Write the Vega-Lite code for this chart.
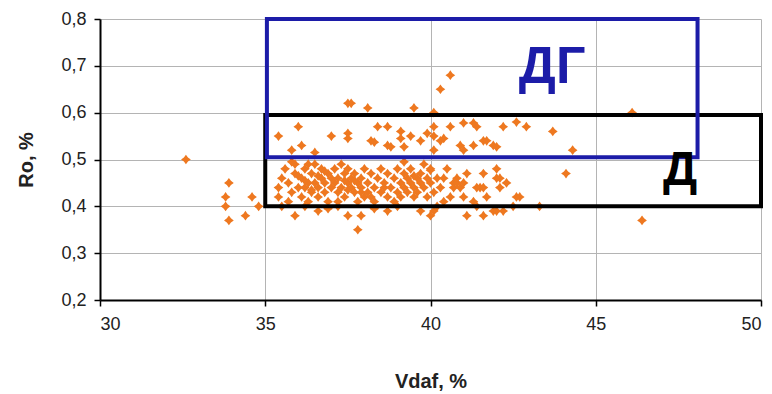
{
  "$schema": "https://vega.github.io/schema/vega-lite/v6.json",
  "width": 661,
  "height": 281,
  "autosize": "none",
  "padding": {"left": 100, "top": 19, "right": 11, "bottom": 94},
  "background": "white",
  "config": {"view": {"stroke": null}, "font": "Liberation Sans"},
  "layer": [
    {
      "data": {"values": [
        {"Vdaf": 32.6, "Ro": 0.50}, {"Vdaf": 33.9, "Ro": 0.45}, {"Vdaf": 33.8, "Ro": 0.42}, {"Vdaf": 33.8, "Ro": 0.40},
        {"Vdaf": 33.9, "Ro": 0.37}, {"Vdaf": 34.4, "Ro": 0.38}, {"Vdaf": 34.6, "Ro": 0.42}, {"Vdaf": 34.8, "Ro": 0.40},
        {"Vdaf": 35.9, "Ro": 0.38}, {"Vdaf": 36.6, "Ro": 0.39}, {"Vdaf": 37.5, "Ro": 0.38}, {"Vdaf": 37.9, "Ro": 0.38},
        {"Vdaf": 37.8, "Ro": 0.35}, {"Vdaf": 38.7, "Ro": 0.39}, {"Vdaf": 39.7, "Ro": 0.39}, {"Vdaf": 40.0, "Ro": 0.38},
        {"Vdaf": 41.1, "Ro": 0.38}, {"Vdaf": 41.6, "Ro": 0.38}, {"Vdaf": 41.9, "Ro": 0.39}, {"Vdaf": 42.2, "Ro": 0.39},
        {"Vdaf": 42.0, "Ro": 0.39}, {"Vdaf": 43.3, "Ro": 0.40}, {"Vdaf": 36.2, "Ro": 0.40}, {"Vdaf": 39.0, "Ro": 0.40},
        {"Vdaf": 40.1, "Ro": 0.39}, {"Vdaf": 38.3, "Ro": 0.395}, {"Vdaf": 36.9, "Ro": 0.395}, {"Vdaf": 37.2, "Ro": 0.40},
        {"Vdaf": 42.5, "Ro": 0.40}, {"Vdaf": 41.4, "Ro": 0.40},
        {"Vdaf": 40.3, "Ro": 0.65}, {"Vdaf": 40.6, "Ro": 0.68}, {"Vdaf": 37.5, "Ro": 0.62}, {"Vdaf": 37.6, "Ro": 0.62},
        {"Vdaf": 38.1, "Ro": 0.61}, {"Vdaf": 39.5, "Ro": 0.61}, {"Vdaf": 46.1, "Ro": 0.60}, {"Vdaf": 40.1, "Ro": 0.60},
        {"Vdaf": 35.4, "Ro": 0.55}, {"Vdaf": 35.8, "Ro": 0.52}, {"Vdaf": 36.0, "Ro": 0.57}, {"Vdaf": 36.1, "Ro": 0.53},
        {"Vdaf": 37.0, "Ro": 0.55}, {"Vdaf": 37.5, "Ro": 0.556}, {"Vdaf": 37.5, "Ro": 0.545}, {"Vdaf": 38.2, "Ro": 0.54},
        {"Vdaf": 38.4, "Ro": 0.57}, {"Vdaf": 38.7, "Ro": 0.57}, {"Vdaf": 38.7, "Ro": 0.53}, {"Vdaf": 39.1, "Ro": 0.56},
        {"Vdaf": 39.1, "Ro": 0.545}, {"Vdaf": 39.4, "Ro": 0.55}, {"Vdaf": 39.7, "Ro": 0.54}, {"Vdaf": 39.9, "Ro": 0.556},
        {"Vdaf": 40.1, "Ro": 0.57}, {"Vdaf": 40.1, "Ro": 0.55}, {"Vdaf": 40.1, "Ro": 0.52}, {"Vdaf": 40.3, "Ro": 0.54},
        {"Vdaf": 40.4, "Ro": 0.545}, {"Vdaf": 40.6, "Ro": 0.57}, {"Vdaf": 40.9, "Ro": 0.53}, {"Vdaf": 41.0, "Ro": 0.578},
        {"Vdaf": 41.3, "Ro": 0.578}, {"Vdaf": 41.4, "Ro": 0.57}, {"Vdaf": 41.6, "Ro": 0.54}, {"Vdaf": 41.0, "Ro": 0.52},
        {"Vdaf": 41.3, "Ro": 0.53}, {"Vdaf": 41.9, "Ro": 0.53}, {"Vdaf": 41.7, "Ro": 0.54}, {"Vdaf": 42.0, "Ro": 0.527},
        {"Vdaf": 42.2, "Ro": 0.57}, {"Vdaf": 42.6, "Ro": 0.58}, {"Vdaf": 42.9, "Ro": 0.57}, {"Vdaf": 43.7, "Ro": 0.56},
        {"Vdaf": 44.3, "Ro": 0.52}, {"Vdaf": 39.2, "Ro": 0.527}, {"Vdaf": 38.8, "Ro": 0.527}, {"Vdaf": 38.3, "Ro": 0.537},
        {"Vdaf": 36.5, "Ro": 0.515}, {"Vdaf": 39.2, "Ro": 0.495},
        {"Vdaf": 35.4, "Ro": 0.44}, {"Vdaf": 35.4, "Ro": 0.42}, {"Vdaf": 35.5, "Ro": 0.46}, {"Vdaf": 35.6, "Ro": 0.48},
        {"Vdaf": 35.7, "Ro": 0.45}, {"Vdaf": 35.8, "Ro": 0.43}, {"Vdaf": 35.9, "Ro": 0.47}, {"Vdaf": 35.9, "Ro": 0.49},
        {"Vdaf": 35.7, "Ro": 0.41}, {"Vdaf": 36.0, "Ro": 0.44}, {"Vdaf": 35.5, "Ro": 0.40}, {"Vdaf": 35.8, "Ro": 0.495},
        {"Vdaf": 36.1, "Ro": 0.46}, {"Vdaf": 36.1, "Ro": 0.42}, {"Vdaf": 36.2, "Ro": 0.48}, {"Vdaf": 36.2, "Ro": 0.44},
        {"Vdaf": 36.3, "Ro": 0.45}, {"Vdaf": 36.3, "Ro": 0.41}, {"Vdaf": 36.4, "Ro": 0.47}, {"Vdaf": 36.4, "Ro": 0.43},
        {"Vdaf": 36.5, "Ro": 0.49}, {"Vdaf": 36.5, "Ro": 0.45}, {"Vdaf": 36.6, "Ro": 0.44}, {"Vdaf": 36.6, "Ro": 0.42},
        {"Vdaf": 36.7, "Ro": 0.46}, {"Vdaf": 36.7, "Ro": 0.48}, {"Vdaf": 36.8, "Ro": 0.43}, {"Vdaf": 36.8, "Ro": 0.45},
        {"Vdaf": 36.9, "Ro": 0.47}, {"Vdaf": 36.9, "Ro": 0.41}, {"Vdaf": 37.0, "Ro": 0.44}, {"Vdaf": 37.0, "Ro": 0.46},
        {"Vdaf": 36.2, "Ro": 0.455}, {"Vdaf": 36.4, "Ro": 0.435}, {"Vdaf": 36.6, "Ro": 0.465}, {"Vdaf": 36.8, "Ro": 0.475},
        {"Vdaf": 36.3, "Ro": 0.49}, {"Vdaf": 36.0, "Ro": 0.465},
        {"Vdaf": 37.1, "Ro": 0.45}, {"Vdaf": 37.1, "Ro": 0.48}, {"Vdaf": 37.2, "Ro": 0.43}, {"Vdaf": 37.2, "Ro": 0.46},
        {"Vdaf": 37.3, "Ro": 0.44}, {"Vdaf": 37.3, "Ro": 0.49}, {"Vdaf": 37.4, "Ro": 0.47}, {"Vdaf": 37.4, "Ro": 0.42},
        {"Vdaf": 37.5, "Ro": 0.45}, {"Vdaf": 37.5, "Ro": 0.48}, {"Vdaf": 37.6, "Ro": 0.44}, {"Vdaf": 37.6, "Ro": 0.46},
        {"Vdaf": 37.7, "Ro": 0.43}, {"Vdaf": 37.7, "Ro": 0.47}, {"Vdaf": 37.8, "Ro": 0.45}, {"Vdaf": 37.8, "Ro": 0.41},
        {"Vdaf": 37.9, "Ro": 0.46}, {"Vdaf": 37.9, "Ro": 0.44}, {"Vdaf": 38.0, "Ro": 0.48}, {"Vdaf": 38.0, "Ro": 0.42},
        {"Vdaf": 37.2, "Ro": 0.41}, {"Vdaf": 37.5, "Ro": 0.435}, {"Vdaf": 37.4, "Ro": 0.455}, {"Vdaf": 37.7, "Ro": 0.455},
        {"Vdaf": 37.9, "Ro": 0.43},
        {"Vdaf": 38.1, "Ro": 0.45}, {"Vdaf": 38.1, "Ro": 0.43}, {"Vdaf": 38.2, "Ro": 0.47}, {"Vdaf": 38.3, "Ro": 0.44},
        {"Vdaf": 38.3, "Ro": 0.41}, {"Vdaf": 38.4, "Ro": 0.46}, {"Vdaf": 38.5, "Ro": 0.43}, {"Vdaf": 38.5, "Ro": 0.48},
        {"Vdaf": 38.6, "Ro": 0.45}, {"Vdaf": 38.7, "Ro": 0.42}, {"Vdaf": 38.7, "Ro": 0.47}, {"Vdaf": 38.8, "Ro": 0.44},
        {"Vdaf": 38.9, "Ro": 0.46}, {"Vdaf": 38.9, "Ro": 0.41}, {"Vdaf": 39.0, "Ro": 0.43}, {"Vdaf": 39.0, "Ro": 0.48},
        {"Vdaf": 38.2, "Ro": 0.42}, {"Vdaf": 38.6, "Ro": 0.44},
        {"Vdaf": 39.1, "Ro": 0.45}, {"Vdaf": 39.1, "Ro": 0.42}, {"Vdaf": 39.2, "Ro": 0.47}, {"Vdaf": 39.2, "Ro": 0.44},
        {"Vdaf": 39.3, "Ro": 0.43}, {"Vdaf": 39.3, "Ro": 0.46}, {"Vdaf": 39.4, "Ro": 0.45}, {"Vdaf": 39.4, "Ro": 0.48},
        {"Vdaf": 39.5, "Ro": 0.44}, {"Vdaf": 39.5, "Ro": 0.42}, {"Vdaf": 39.6, "Ro": 0.46}, {"Vdaf": 39.6, "Ro": 0.43},
        {"Vdaf": 39.7, "Ro": 0.47}, {"Vdaf": 39.7, "Ro": 0.45}, {"Vdaf": 39.8, "Ro": 0.44}, {"Vdaf": 39.8, "Ro": 0.49},
        {"Vdaf": 39.9, "Ro": 0.46}, {"Vdaf": 39.9, "Ro": 0.42}, {"Vdaf": 40.0, "Ro": 0.45}, {"Vdaf": 40.0, "Ro": 0.48},
        {"Vdaf": 39.5, "Ro": 0.465},
        {"Vdaf": 40.1, "Ro": 0.43}, {"Vdaf": 40.2, "Ro": 0.46}, {"Vdaf": 40.3, "Ro": 0.44}, {"Vdaf": 40.4, "Ro": 0.46},
        {"Vdaf": 40.4, "Ro": 0.41}, {"Vdaf": 40.5, "Ro": 0.48}, {"Vdaf": 40.6, "Ro": 0.42}, {"Vdaf": 40.7, "Ro": 0.45},
        {"Vdaf": 40.7, "Ro": 0.44}, {"Vdaf": 40.8, "Ro": 0.45}, {"Vdaf": 40.8, "Ro": 0.46}, {"Vdaf": 40.9, "Ro": 0.44},
        {"Vdaf": 41.0, "Ro": 0.45}, {"Vdaf": 41.0, "Ro": 0.42}, {"Vdaf": 41.1, "Ro": 0.47}, {"Vdaf": 40.0, "Ro": 0.477},
        {"Vdaf": 40.2, "Ro": 0.40},
        {"Vdaf": 41.4, "Ro": 0.44}, {"Vdaf": 41.5, "Ro": 0.44}, {"Vdaf": 41.6, "Ro": 0.44}, {"Vdaf": 41.7, "Ro": 0.42},
        {"Vdaf": 41.6, "Ro": 0.47}, {"Vdaf": 42.0, "Ro": 0.48}, {"Vdaf": 42.0, "Ro": 0.46}, {"Vdaf": 42.1, "Ro": 0.44},
        {"Vdaf": 42.1, "Ro": 0.46}, {"Vdaf": 42.6, "Ro": 0.42}, {"Vdaf": 42.7, "Ro": 0.42}, {"Vdaf": 41.3, "Ro": 0.41},
        {"Vdaf": 42.3, "Ro": 0.45},
        {"Vdaf": 44.1, "Ro": 0.47}, {"Vdaf": 46.4, "Ro": 0.37}
      ]},
      "mark": {
        "type": "point",
        "shape": "M0,-1L0.42,-0.42L1,0L0.42,0.42L0,1L-0.42,0.42L-1,0L-0.42,-0.42Z",
        "filled": true,
        "size": 95,
        "color": "#EE7820",
        "opacity": 1
      },
      "encoding": {
        "x": {
          "field": "Vdaf", "type": "quantitative",
          "scale": {"domain": [30, 50], "nice": false, "zero": false},
          "axis": {
            "title": "Vdaf, %", "values": [30, 35, 40, 45, 50], "format": "d",
            "labelFont": "Liberation Sans", "labelFontSize": 18, "labelColor": "#222222", "labelPadding": 9,
            "titleFont": "Liberation Sans", "titleFontSize": 20, "titleFontWeight": "bold", "titleColor": "#222222", "titlePadding": 38,
            "domainColor": "#000000", "domainWidth": 2, "tickColor": "#000000", "tickWidth": 1.5, "tickSize": 6,
            "grid": true, "gridColor": "#b4b4b4", "gridWidth": 1
          }
        },
        "y": {
          "field": "Ro", "type": "quantitative",
          "scale": {"domain": [0.2, 0.8], "nice": false, "zero": false},
          "axis": {
            "title": "Ro, %", "values": [0.2, 0.3, 0.4, 0.5, 0.6, 0.7, 0.8],
            "labelExpr": "replace(format(datum.value, '.1f'), '.', ',')",
            "labelFont": "Liberation Sans", "labelFontSize": 18, "labelColor": "#222222", "labelPadding": 8,
            "titleFont": "Liberation Sans", "titleFontSize": 20, "titleFontWeight": "bold", "titleColor": "#222222", "titlePadding": 24,
            "domainColor": "#000000", "domainWidth": 2, "tickColor": "#000000", "tickWidth": 1.5, "tickSize": 6,
            "grid": true, "gridColor": "#b4b4b4", "gridWidth": 1
          }
        }
      }
    },
    {
      "data": {"values": [
        {"zone": "Д", "x0": 35.0, "x1": 50.0, "y0": 0.40, "y1": 0.595},
        {"zone": "ДГ", "x0": 35.05, "x1": 48.08, "y0": 0.505, "y1": 0.80}
      ]},
      "mark": {"type": "rect", "filled": false, "strokeWidth": 4, "clip": false},
      "encoding": {
        "x": {"field": "x0", "type": "quantitative", "title": "Vdaf, %"},
        "x2": {"field": "x1"},
        "y": {"field": "y0", "type": "quantitative", "title": "Ro, %"},
        "y2": {"field": "y1"},
        "stroke": {
          "field": "zone", "type": "nominal",
          "scale": {"domain": ["ДГ", "Д"], "range": ["#1c1ca8", "#000000"]},
          "legend": null
        }
      }
    },
    {
      "data": {"values": [
        {"zone": "ДГ", "x": 43.68, "y": 0.663},
        {"zone": "Д", "x": 47.55, "y": 0.445}
      ]},
      "mark": {"type": "text", "font": "Liberation Sans", "fontWeight": "bold", "align": "center", "baseline": "alphabetic"},
      "encoding": {
        "x": {"field": "x", "type": "quantitative", "title": "Vdaf, %"},
        "y": {"field": "y", "type": "quantitative", "title": "Ro, %"},
        "text": {"field": "zone"},
        "size": {
          "field": "zone", "type": "nominal",
          "scale": {"domain": ["ДГ", "Д"], "range": [52, 48]},
          "legend": null
        },
        "color": {
          "field": "zone", "type": "nominal",
          "scale": {"domain": ["ДГ", "Д"], "range": ["#1c1ca8", "#000000"]},
          "legend": null
        }
      }
    }
  ]
}
